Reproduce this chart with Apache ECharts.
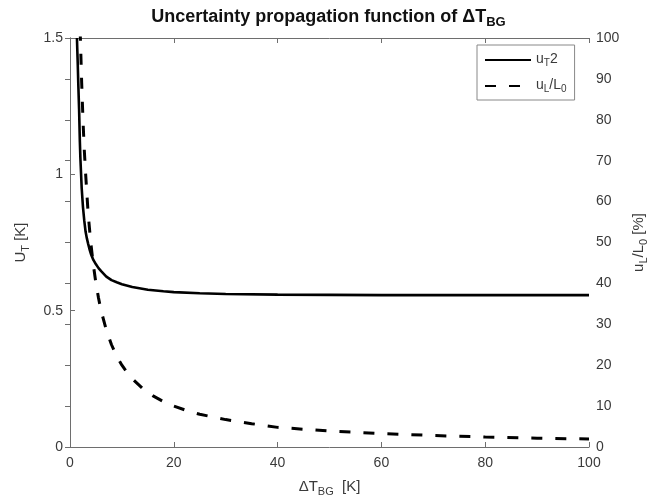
<!DOCTYPE html>
<html>
<head>
<meta charset="utf-8">
<script src="https://cdn.jsdelivr.net/npm/echarts@6/dist/echarts.min.js"></script>
<style>
  html, body { margin: 0; padding: 0; background: #fff; }
  #chart { width: 657px; height: 504px; }
</style>
</head>
<body>
<div id="chart"></div>
<script>
// Temperature uncertainty u_T versus ΔT_BG (left axis, K)
const xUT = [1.34, 1.4, 1.5, 1.6, 1.75, 1.9, 2.0, 2.25, 2.5, 2.75, 3.0, 3.25, 3.5, 3.75, 4.0, 4.5, 5.0, 5.5, 6.0, 7.0, 8.0, 9.0, 10, 12, 15, 18, 20, 25, 30, 40, 50, 60, 70, 80, 90, 100];
const uT  = [1.50, 1.46, 1.40, 1.33, 1.24, 1.12, 1.06, 0.95, 0.88, 0.83, 0.79, 0.765, 0.745, 0.726, 0.71, 0.686, 0.67, 0.656, 0.645, 0.625, 0.612, 0.604, 0.597, 0.587, 0.577, 0.571, 0.568, 0.564, 0.561, 0.559, 0.558, 0.557, 0.557, 0.557, 0.557, 0.557];

// Relative radiance uncertainty u_L/L_0 versus ΔT_BG (right axis, %)
const xUL = [1.95, 2.0, 2.25, 2.5, 2.75, 3.0, 3.5, 4.0, 4.5, 5.0, 5.5, 6.0, 7.0, 8.0, 9.0, 10, 11, 12, 14, 16, 18, 20, 22.5, 25, 30, 35, 40, 45, 50, 60, 70, 80, 90, 100];
const uL  = [102, 100, 89, 80, 72.7, 67, 57, 50, 44.5, 40, 36.4, 33.3, 28.6, 25, 22.2, 20, 18.2, 16.7, 14.3, 12.5, 11.1, 10, 8.9, 8, 6.7, 5.7, 4.8, 4.35, 3.9, 3.3, 2.8, 2.45, 2.15, 1.95];

const FONT = "'Liberation Sans', Arial, Helvetica, sans-serif";
const AXIS_COLOR = '#6e6e6e';
const TEXT_COLOR = '#3a3a3a';

const pair = (xs, ys) => xs.map((x, i) => [x, ys[i]]);

// Rich-text styles: n = normal run, s = subscript run
const subRich = (size, bold) => ({
  n: { fontSize: size, fontWeight: bold ? 'bold' : 'normal', fontFamily: FONT, color: bold ? '#111' : TEXT_COLOR, lineHeight: size + 2, verticalAlign: 'top' },
  s: { fontSize: Math.round(size * 0.72), fontWeight: bold ? 'bold' : 'normal', fontFamily: FONT, color: bold ? '#111' : TEXT_COLOR, lineHeight: size - 2, padding: [Math.round(size * 0.45), 0, 0, 0], verticalAlign: 'top' }
});

const chart = echarts.init(document.getElementById('chart'), null, { renderer: 'canvas' });

chart.setOption({
  animation: false,
  backgroundColor: '#fff',
  title: {
    text: '{n|Uncertainty propagation function of ΔT}{s|BG}',
    left: 'center',
    top: 3,
    textStyle: { rich: subRich(18, true) }
  },
  legend: {
    left: 477,
    top: 45,
    orient: 'vertical',
    itemWidth: 46,
    itemHeight: 14,
    itemGap: 10,
    padding: [7, 8, 6, 7],
    borderColor: '#888',
    borderWidth: 1,
    backgroundColor: '#fff',
    itemStyle: { opacity: 0 },
    data: ['uT2', 'uL/L0'],
    formatter: name => name === 'uT2' ? '{n|u}{s|T}{n|2}' : '{n|u}{s|L}{n|/L}{s|0}',
    textStyle: { rich: subRich(14, false) }
  },
  grid: { left: 70, right: 65, top: 38, bottom: 57, containLabel: false },
  xAxis: [{
    type: 'value', min: 0, max: 100, interval: 20,
    name: '{n|ΔT}{s|BG}{n|  [K]}',
    nameLocation: 'middle', nameGap: 32,
    nameTextStyle: { rich: subRich(15, false) },
    axisLine: { lineStyle: { color: AXIS_COLOR, width: 1 } },
    axisTick: { inside: true, length: 5, lineStyle: { color: AXIS_COLOR } },
    axisLabel: { color: TEXT_COLOR, fontSize: 14, fontFamily: FONT, margin: 9 },
    splitLine: { show: false }
  }, {
    type: 'value', min: 0, max: 100, interval: 20, position: 'top',
    axisLine: { onZero: false, lineStyle: { color: AXIS_COLOR, width: 1 } },
    axisTick: { inside: true, length: 5, lineStyle: { color: AXIS_COLOR } },
    axisLabel: { show: false },
    splitLine: { show: false }
  }],
  yAxis: [{
    type: 'value', min: 0, max: 1.5, interval: 0.5, position: 'left',
    name: '{n|U}{s|T}{n| [K]}',
    nameLocation: 'middle', nameGap: 40, nameRotate: 90,
    nameTextStyle: { rich: subRich(15, false) },
    axisLine: { show: true, lineStyle: { color: AXIS_COLOR, width: 1 } },
    axisTick: { show: true, inside: true, length: 5, lineStyle: { color: AXIS_COLOR } },
    axisLabel: { color: TEXT_COLOR, fontSize: 14, fontFamily: FONT, margin: 7 },
    splitLine: { show: false }
  }, {
    type: 'value', min: 0, max: 100, interval: 10, position: 'right',
    name: '{n|u}{s|L}{n|/L}{s|0}{n| [%]}',
    nameLocation: 'middle', nameGap: 42, nameRotate: 90,
    nameTextStyle: { rich: subRich(15, false) },
    axisLine: { show: true, lineStyle: { color: AXIS_COLOR, width: 1 } },
    axisTick: { show: true, inside: true, length: 5, lineStyle: { color: AXIS_COLOR } },
    axisLabel: { color: TEXT_COLOR, fontSize: 14, fontFamily: FONT, margin: 7 },
    splitLine: { show: false }
  }],
  series: [{
    name: 'uT2',
    type: 'line',
    xAxisIndex: 0, yAxisIndex: 0,
    data: pair(xUT, uT),
    symbol: 'none',
    clip: true,
    lineStyle: { color: '#000', width: 2.6 },
    itemStyle: { color: '#000' },
    z: 3
  }, {
    name: 'uL/L0',
    type: 'line',
    xAxisIndex: 0, yAxisIndex: 1,
    data: pair(xUL, uL),
    symbol: 'none',
    clip: true,
    lineStyle: { color: '#000', width: 3, type: [11, 13] },
    itemStyle: { color: '#000' },
    z: 2
  }]
});
</script>
</body>
</html>
